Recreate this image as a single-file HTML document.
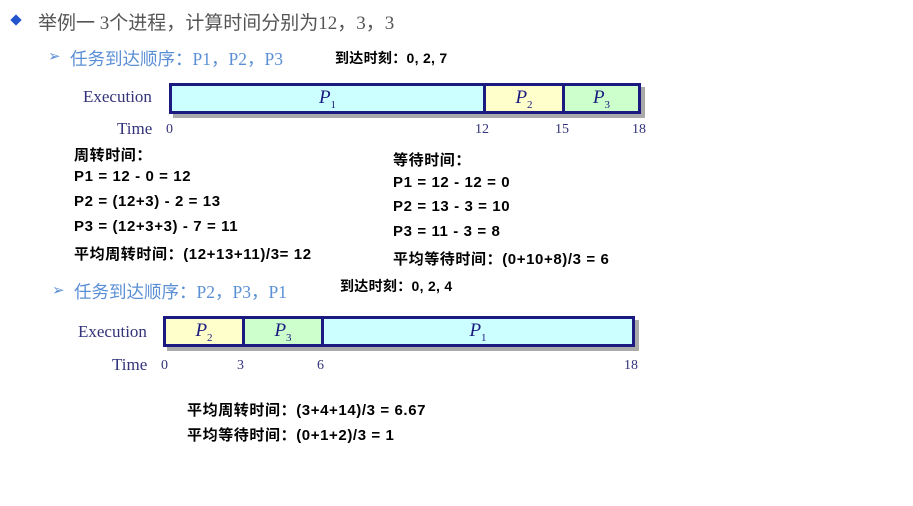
<!DOCTYPE html>
<html><head><meta charset="utf-8"><style>
body{margin:0;width:913px;height:506px;background:#fff;position:relative;overflow:hidden;font-family:"Liberation Sans","Noto Sans CJK SC",sans-serif}
.a{position:absolute;white-space:nowrap}
.b{font-weight:bold;font-size:15px;letter-spacing:0.6px;color:#000}
.s{font-family:"Liberation Serif","Noto Serif CJK SC",serif;color:#33337a;font-size:17px}
.box{position:absolute;border:3px solid #1a1a80;box-sizing:border-box;box-shadow:4px 4px 0 #aaa}
.seg{position:absolute;top:0;bottom:0;box-sizing:border-box;font-family:"Liberation Serif",serif;font-style:italic;font-size:19px;color:#1a1a80;text-align:center;line-height:24px}
.seg sub{font-style:normal;font-size:11px}
.t{position:absolute;font-family:"Liberation Serif",serif;font-size:14px;color:#33337a}
.ar{position:absolute;font-size:15px;color:#5b8fd5}
</style></head><body>
<div class="a" style="left:12px;top:16px;width:8px;height:8px;background:#2255cc;transform:rotate(45deg)"></div>
<div class="a" style="left:38px;top:8px;font-size:19px;color:#555;font-family:'Liberation Serif','Noto Sans CJK SC',sans-serif">举例一 3个进程，计算时间分别为12，3，3</div>
<div class="ar" style="left:48px;top:47px">➢</div>
<div class="a" style="left:70px;top:46px;font-size:17.5px;color:#5b8fd5;font-family:'Liberation Serif','Noto Sans CJK SC',sans-serif">任务到达顺序：P1，P2，P3</div>
<div class="a b" style="left:335px;top:48px;font-size:14px;letter-spacing:0.3px">到达时刻：0, 2, 7</div>

<div class="a s" style="left:83px;top:87px">Execution</div>
<div class="box" style="left:169px;top:83px;width:472px;height:31px">
<div class="seg" style="left:0;width:311px;background:#ccffff">P<sub>1</sub></div>
<div class="seg" style="left:311px;width:79px;background:#ffffcc;border-left:3px solid #1a1a80">P<sub>2</sub></div>
<div class="seg" style="left:390px;width:76px;background:#ccffcc;border-left:3px solid #1a1a80">P<sub>3</sub></div>
</div>
<div class="a s" style="left:117px;top:119px">Time</div>
<div class="t" style="left:166px;top:122px">0</div>
<div class="t" style="left:475px;top:122px">12</div>
<div class="t" style="left:555px;top:122px">15</div>
<div class="t" style="left:632px;top:122px">18</div>

<div class="a b" style="left:74px;top:144px">周转时间：</div>
<div class="a b" style="left:74px;top:168px">P1 = 12 - 0 = 12</div>
<div class="a b" style="left:74px;top:193px">P2 = (12+3) - 2 = 13</div>
<div class="a b" style="left:74px;top:218px">P3 = (12+3+3) - 7 = 11</div>
<div class="a b" style="left:74px;top:243px">平均周转时间：(12+13+11)/3= 12</div>
<div class="a b" style="left:393px;top:149px">等待时间：</div>
<div class="a b" style="left:393px;top:174px">P1 = 12 - 12 = 0</div>
<div class="a b" style="left:393px;top:198px">P2 = 13 - 3 = 10</div>
<div class="a b" style="left:393px;top:223px">P3 = 11 - 3 = 8</div>
<div class="a b" style="left:393px;top:248px">平均等待时间：(0+10+8)/3 = 6</div>

<div class="ar" style="left:52px;top:281px">➢</div>
<div class="a" style="left:74px;top:279px;font-size:17.5px;color:#5b8fd5;font-family:'Liberation Serif','Noto Sans CJK SC',sans-serif">任务到达顺序：P2，P3，P1</div>
<div class="a b" style="left:340px;top:276px;font-size:14px;letter-spacing:0.3px">到达时刻：0, 2, 4</div>

<div class="a s" style="left:78px;top:322px">Execution</div>
<div class="box" style="left:163px;top:316px;width:472px;height:31px">
<div class="seg" style="left:0;width:76px;background:#ffffcc">P<sub>2</sub></div>
<div class="seg" style="left:76px;width:79px;background:#ccffcc;border-left:3px solid #1a1a80">P<sub>3</sub></div>
<div class="seg" style="left:155px;width:311px;background:#ccffff;border-left:3px solid #1a1a80">P<sub>1</sub></div>
</div>
<div class="a s" style="left:112px;top:355px">Time</div>
<div class="t" style="left:161px;top:358px">0</div>
<div class="t" style="left:237px;top:358px">3</div>
<div class="t" style="left:317px;top:358px">6</div>
<div class="t" style="left:624px;top:358px">18</div>

<div class="a b" style="left:187px;top:399px">平均周转时间：(3+4+14)/3 = 6.67</div>
<div class="a b" style="left:187px;top:424px">平均等待时间：(0+1+2)/3 = 1</div>
</body></html>
